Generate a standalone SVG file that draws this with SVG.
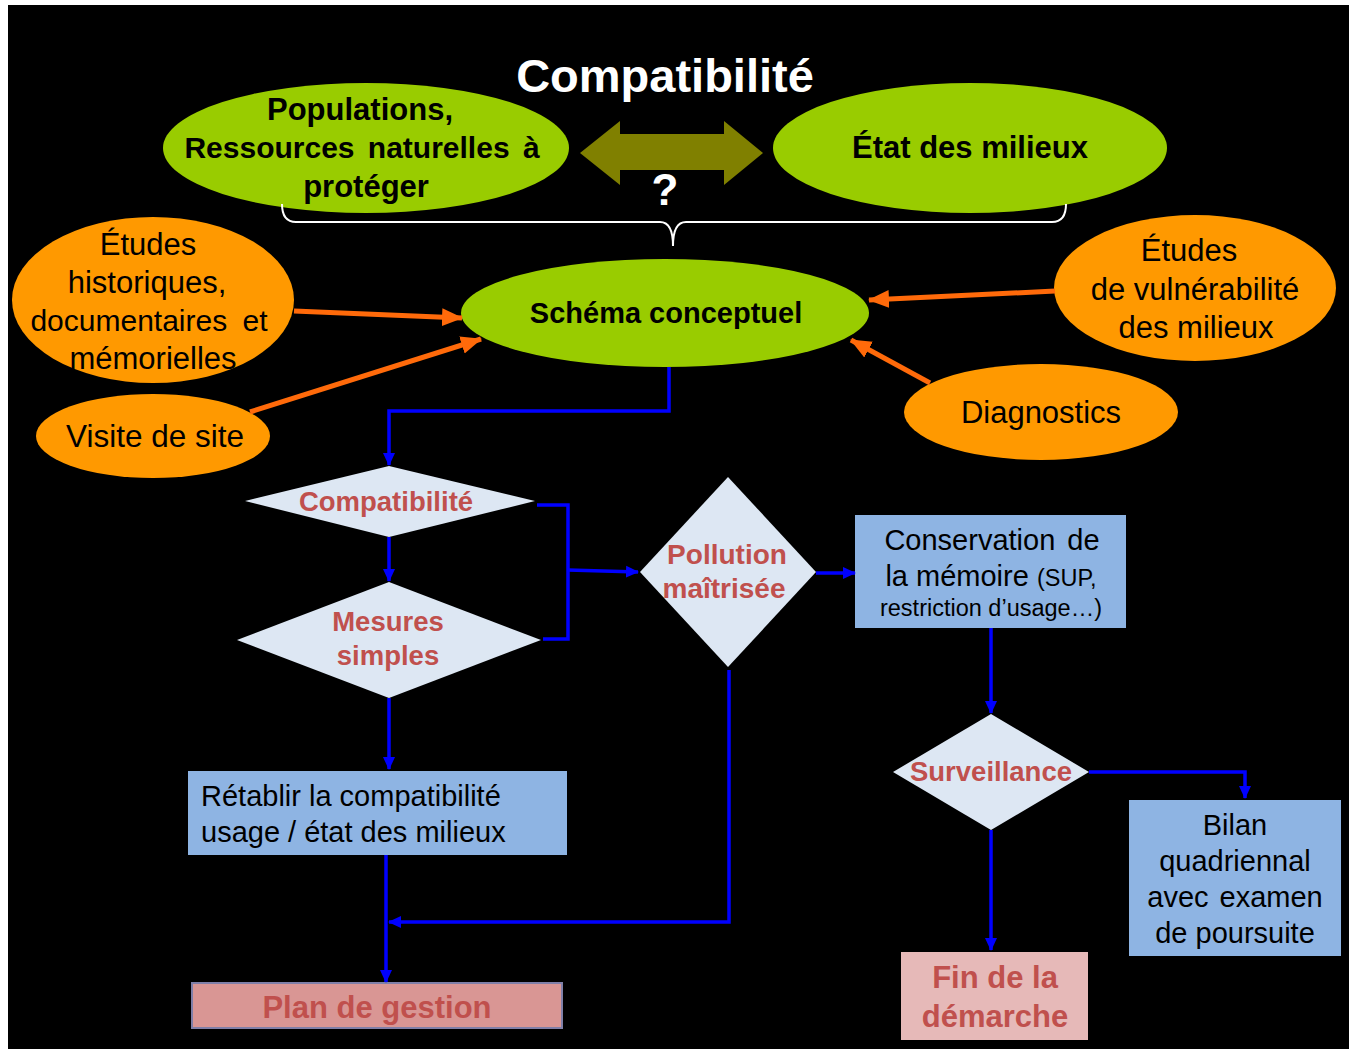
<svg xmlns="http://www.w3.org/2000/svg" width="1349" height="1049" viewBox="0 0 1349 1049">
<defs>
<style>
text{font-family:"Liberation Sans",Arial,sans-serif;}
.g{fill:#99cc00;}
.o{fill:#ff9900;}
.bt{font-weight:bold;fill:#000;text-anchor:middle;}
.rt{fill:#000;text-anchor:middle;}
.dia{fill:#dde7f3;}
.red{font-weight:bold;fill:#c0504d;text-anchor:middle;}
.box{fill:#8eb4e3;}
.bl{fill:none;stroke:#0000ff;stroke-width:3.5;}
.or{fill:none;stroke:#ff6a0a;stroke-width:5;}
</style>
<marker id="ab" markerUnits="userSpaceOnUse" markerWidth="14" markerHeight="14" refX="12" refY="7" orient="auto">
<path d="M0,1 L13,7 L0,13 z" fill="#0000ff"/>
</marker>
<marker id="ao" markerUnits="userSpaceOnUse" markerWidth="22" markerHeight="20" refX="20" refY="10" orient="auto">
<path d="M0,1 L21,10 L0,19 z" fill="#ff6a0a"/>
</marker>
</defs>
<rect x="0" y="0" width="1349" height="1049" fill="#fff"/>
<rect x="8" y="5" width="1341" height="1044" fill="#000"/>

<text x="665" y="92" font-size="47" font-weight="bold" fill="#fff" text-anchor="middle">Compatibilité</text>

<g id="populations">
<ellipse class="g" cx="366" cy="148" rx="203" ry="65"/>
<text class="bt" x="360" y="120" font-size="31">Populations,</text>
<text class="bt" x="362" y="158" font-size="30" word-spacing="5">Ressources naturelles à</text>
<text class="bt" x="366" y="197" font-size="31">protéger</text>
</g>

<g id="double-arrow">
<path d="M580,153 L620,121 L620,134 L724,134 L724,121 L763,153 L724,185 L724,170 L620,170 L620,185 Z" fill="#808000"/>
<text x="665" y="205" font-size="44" font-weight="bold" fill="#fff" text-anchor="middle">?</text>
</g>

<g id="etat">
<ellipse class="g" cx="970" cy="148" rx="197" ry="65"/>
<text class="bt" x="970" y="158" font-size="31">État des milieux</text>
</g>

<g id="brace">
<path d="M282,204 Q282,222 296,222 L660,222 Q673,222 673,246 Q673,222 686,222 L1052,222 Q1066,222 1066,204" fill="none" stroke="#fff" stroke-width="2"/>
</g>

<g id="schema">
<ellipse class="g" cx="665" cy="313" rx="204" ry="54"/>
<text class="bt" x="666" y="323" font-size="29">Schéma conceptuel</text>
</g>

<g id="etudes-hist">
<ellipse class="o" cx="153" cy="300" rx="141" ry="83"/>
<text class="rt" x="148" y="255" font-size="31">Études</text>
<text class="rt" x="147" y="293" font-size="31">historiques,</text>
<text class="rt" x="149" y="331" font-size="30" word-spacing="7">documentaires et</text>
<text class="rt" x="153" y="369" font-size="31">mémorielles</text>
</g>

<g id="visite">
<ellipse class="o" cx="153" cy="436" rx="117" ry="42"/>
<text class="rt" x="155" y="447" font-size="31.5">Visite de site</text>
</g>

<g id="etudes-vuln">
<ellipse class="o" cx="1195" cy="288" rx="141" ry="73"/>
<text class="rt" x="1189" y="261" font-size="31">Études</text>
<text class="rt" x="1195" y="300" font-size="31">de vulnérabilité</text>
<text class="rt" x="1196" y="338" font-size="31">des milieux</text>
</g>

<g id="diagnostics">
<ellipse class="o" cx="1041" cy="412" rx="137" ry="48"/>
<text class="rt" x="1041" y="423" font-size="31">Diagnostics</text>
</g>

<g id="compat-diamond">
<path class="dia" d="M389,466 L535,501 L389,537 L245,501 Z"/>
<text class="red" x="386" y="511" font-size="27.5">Compatibilité</text>
</g>

<g id="mesures">
<path class="dia" d="M389,582 L541,640 L389,698 L237,640 Z"/>
<text class="red" x="388" y="631" font-size="27.5">Mesures</text>
<text class="red" x="388" y="665" font-size="27.5">simples</text>
</g>

<g id="pollution">
<path class="dia" d="M728,477 L816,572 L728,667 L640,572 Z"/>
<text class="red" x="727" y="564" font-size="28">Pollution</text>
<text class="red" x="724" y="598" font-size="28">maîtrisée</text>
</g>

<g id="conservation">
<rect class="box" x="855" y="515" width="271" height="113"/>
<text class="rt" x="992" y="550" font-size="29" word-spacing="4">Conservation de</text>
<text class="rt" x="991" y="586" font-size="29">la mémoire <tspan font-size="23.5">(SUP,</tspan></text>
<text class="rt" x="991" y="616" font-size="23.5">restriction d’usage…)</text>
</g>

<g id="surveillance">
<path class="dia" d="M991,714 L1089,772 L991,830 L893,772 Z"/>
<text class="red" x="991" y="781" font-size="27.5">Surveillance</text>
</g>

<g id="bilan">
<rect class="box" x="1129" y="800" width="212" height="156"/>
<text class="rt" x="1235" y="835" font-size="29">Bilan</text>
<text class="rt" x="1235" y="871" font-size="29">quadriennal</text>
<text class="rt" x="1235" y="907" font-size="29" word-spacing="3">avec examen</text>
<text class="rt" x="1235" y="943" font-size="29">de poursuite</text>
</g>

<g id="fin">
<rect x="901" y="952" width="187" height="88" fill="#e6b9b8"/>
<text class="red" x="995" y="988" font-size="31">Fin de la</text>
<text class="red" x="995" y="1027" font-size="31">démarche</text>
</g>

<g id="retablir">
<rect class="box" x="188" y="771" width="379" height="84"/>
<text x="201" y="806" font-size="29" fill="#000">Rétablir la compatibilité</text>
<text x="201" y="842" font-size="29" fill="#000">usage / état des milieux</text>
</g>

<g id="plan">
<rect x="192" y="983" width="370" height="45" fill="#d99694" stroke="#7f7fa8" stroke-width="2"/>
<text class="red" x="377" y="1018" font-size="31">Plan de gestion</text>
</g>

<g id="connectors">
<path class="or" d="M294,311 L462,318" marker-end="url(#ao)"/>
<path class="or" d="M250,412 L481,339" marker-end="url(#ao)"/>
<path class="or" d="M1055,291 L869,300" marker-end="url(#ao)"/>
<path class="or" d="M930,383 L851,340" marker-end="url(#ao)"/>
<path class="bl" d="M669,367 L669,411 L389,411 L389,465" marker-end="url(#ab)"/>
<path class="bl" d="M389,537 L389,581" marker-end="url(#ab)"/>
<path class="bl" d="M537,505 L568,505 L568,639 L543,639"/>
<path class="bl" d="M568,570 L638,572" marker-end="url(#ab)"/>
<path class="bl" d="M816,573 L855,573" marker-end="url(#ab)"/>
<path class="bl" d="M389,698 L389,769" marker-end="url(#ab)"/>
<path class="bl" d="M729,670 L729,922 L389,922" marker-end="url(#ab)"/>
<path class="bl" d="M386,855 L386,982" marker-end="url(#ab)"/>
<path class="bl" d="M991,628 L991,713" marker-end="url(#ab)"/>
<path class="bl" d="M1089,772 L1245,772 L1245,798" marker-end="url(#ab)"/>
<path class="bl" d="M991,830 L991,950" marker-end="url(#ab)"/>
</g>
</svg>
